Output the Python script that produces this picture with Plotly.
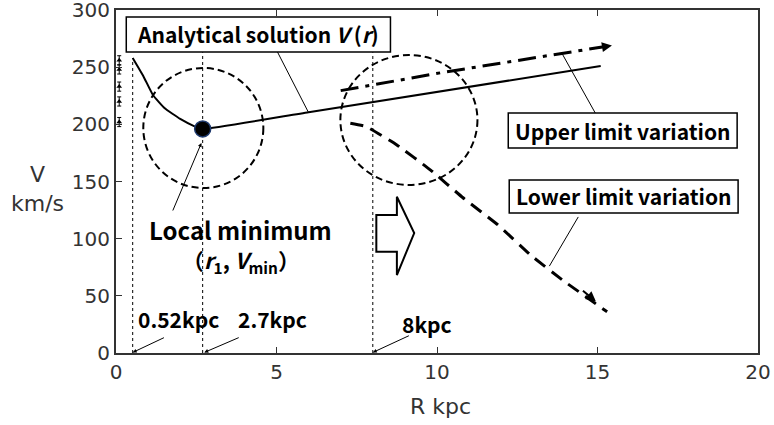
import plotly.graph_objects as go

# Observed rotation speeds near the galactic centre
obs_r = [0.1, 0.1, 0.1, 0.1, 0.1]
obs_v = [256, 248, 233, 220, 202]

# Analytical solution V(r): inner fall to the local minimum, then linear rise
model_r = [0.52, 0.86, 1.15, 1.52, 2.0, 2.43, 2.7, 6.0, 15.1]
model_v = [258, 241.7, 225.7, 214, 204.7, 198.5, 196, 210.6, 251]

# Upper / lower limit variations beyond 7 kpc
upper_r = [7.0, 10.2, 15.45]
upper_v = [229.5, 245.5, 269]
lower_r = [7.3, 7.8, 8.75, 9.8, 10.8, 11.9, 12.9, 13.9, 15.3]
lower_v = [201, 198, 182, 160, 136, 112, 86, 64, 36]

# Local minimum and marker radii
r_min, v_min = 2.7, 196
r_core = 0.52
r_sun = 8

x_ticks = [0, 5, 10, 15, 20]
y_ticks = [0, 50, 100, 150, 200, 250, 300]

LABEL_FONT = "Noto Sans CJK JP"
AXIS_FONT = "DejaVu Sans"

fig = go.Figure()

fig.add_trace(go.Scatter(
    x=obs_r, y=obs_v, mode="markers",
    marker=dict(symbol="triangle-up", size=5, color="black"),
    error_y=dict(type="constant", value=4, thickness=1, width=2, color="black"),
    hoverinfo="skip", showlegend=False))

fig.add_trace(go.Scatter(
    x=model_r, y=model_v, mode="lines",
    line=dict(color="black", width=2, shape="spline", smoothing=0.4),
    showlegend=False))

fig.add_trace(go.Scatter(
    x=upper_r, y=upper_v, mode="lines",
    line=dict(color="black", width=3, dash="18px,7px,4px,7px"),
    showlegend=False))

fig.add_trace(go.Scatter(
    x=lower_r, y=lower_v, mode="lines",
    line=dict(color="black", width=3, dash="13px,8px", shape="spline", smoothing=0.3),
    showlegend=False))

fig.add_trace(go.Scatter(
    x=[r_min], y=[v_min], mode="markers",
    marker=dict(size=16, color="black", line=dict(color="#1f3a6e", width=1.5)),
    showlegend=False))

shapes = []
# vertical guide lines
for rv, top in [(r_core, 258), (r_min, 263), (r_sun, 263)]:
    shapes.append(dict(type="line", xref="x", yref="y", x0=rv, x1=rv, y0=0, y1=top,
                       line=dict(color="black", width=1, dash="3px,3px"), layer="below"))
# dashed circles
shapes.append(dict(type="circle", xref="x", yref="y", x0=0.85, x1=4.59, y0=144.3, y1=249.3,
                   line=dict(color="black", width=2, dash="7px,4px")))
shapes.append(dict(type="circle", xref="x", yref="y", x0=6.99, x1=11.26, y0=147, y1=260.6,
                   line=dict(color="black", width=2, dash="7px,4px")))
# hollow block arrow
shapes.append(dict(type="path", xref="x", yref="y",
                   path="M 8.11 120.7 L 8.75 120.7 L 8.75 136.7 L 9.29 104.9 L 8.75 68.2 "
                        "L 8.75 88.6 L 8.11 88.6 Z",
                   line=dict(color="black", width=2), fillcolor="white"))
# leader lines
for x0, y0, x1, y1 in [(5.03, 263.3, 6.0, 210.2), (14.93, 209.9, 13.9, 261.7),
                       (14.4, 119, 13.5, 76)]:
    shapes.append(dict(type="line", xref="x", yref="y", x0=x0, y0=y0, x1=x1, y1=y1,
                       line=dict(color="black", width=1)))
# label boxes
for x0, x1, y0, y1 in [(0.32, 8.55, 263.3, 293.9), (12.22, 19.35, 179.3, 209.9),
                       (12.25, 19.38, 122.5, 151.3)]:
    shapes.append(dict(type="rect", xref="x", yref="y", x0=x0, x1=x1, y0=y0, y1=y1,
                       line=dict(color="black", width=1.5), fillcolor="white", layer="above"))

annotations = []
bold = dict(family=LABEL_FONT, size=21, color="black", weight="bold")
annotations.append(dict(x=4.43, y=278.6, xref="x", yref="y", showarrow=False,
                        text="Analytical solution <i>V</i> (<i>r</i>)", font=bold))
annotations.append(dict(x=15.79, y=194.6, xref="x", yref="y", showarrow=False,
                        text="Upper limit variation", font=bold))
annotations.append(dict(x=15.81, y=136.9, xref="x", yref="y", showarrow=False,
                        text="Lower limit variation", font=bold))
annotations.append(dict(x=3.88, y=107.6, xref="x", yref="y", showarrow=False,
                        text="Local minimum", font=dict(bold, size=24)))
annotations.append(dict(x=3.88, y=80.5, xref="x", yref="y", showarrow=False,
                        text="（<i>r</i><sub>1</sub>, <i>V</i><sub>min</sub>）",
                        font=dict(bold, size=22)))
annotations.append(dict(x=1.94, y=29.5, xref="x", yref="y", showarrow=False,
                        text="0.52kpc", font=bold))
annotations.append(dict(x=4.87, y=29.5, xref="x", yref="y", showarrow=False,
                        text="2.7kpc", font=bold))
annotations.append(dict(x=9.7, y=25.5, xref="x", yref="y", showarrow=False,
                        text="8kpc", font=bold))

# arrows (empty text, tail at ax/ay)
arrows = [
    (2.66, 183.7, 1.75, 123.3, 1, 0.8),   # local minimum
    (r_core, 0.5, 1.54, 14, 1, 0.8),
    (2.75, 0.5, 3.87, 14, 1, 0.8),
    (r_sun, 0.5, 9.17, 15.7, 1, 0.8),
    (upper_r[-1], upper_v[-1], 15.0, 266.9, 2, 1.0),
    (14.95, 45, 14.5, 55.5, 2, 1.0),
]
for x, y, ax, ay, w, sz in arrows:
    annotations.append(dict(x=x, y=y, ax=ax, ay=ay, xref="x", yref="y", axref="x", ayref="y",
                            text="", showarrow=True, arrowhead=2, arrowsize=sz,
                            arrowwidth=w, arrowcolor="black"))

# axis titles
annotations.append(dict(x=-0.1215, y=0.478, xref="paper", yref="paper", showarrow=False,
                        xanchor="center", yanchor="middle",
                        text="V<br>km/s", align="center",
                        font=dict(family=AXIS_FONT, size=22, color="#333")))
annotations.append(dict(x=0.505, y=-0.157, xref="paper", yref="paper", showarrow=False,
                        xanchor="center", yanchor="middle",
                        text="R kpc", font=dict(family=AXIS_FONT, size=22, color="#333")))

fig.update_layout(
    width=774, height=425,
    margin=dict(l=116, r=16, t=10, b=72),
    paper_bgcolor="white", plot_bgcolor="white",
    shapes=shapes, annotations=annotations,
    showlegend=False,
)
fig.update_xaxes(range=[0, 20], tickvals=x_ticks, showgrid=False, zeroline=False,
                 showline=True, linecolor="#333", linewidth=2, mirror="ticks",
                 ticks="inside", ticklen=6, tickcolor="#333", automargin=False,
                 ticklabeloverflow="allow",
                 tickfont=dict(family=AXIS_FONT, size=20, color="#333"))
fig.update_yaxes(range=[0, 300], tickvals=y_ticks, showgrid=False, zeroline=False,
                 showline=True, linecolor="#333", linewidth=2, mirror=True,
                 ticks="inside", ticklen=6, tickcolor="#333", automargin=False,
                 ticklabeloverflow="allow",
                 tickfont=dict(family=AXIS_FONT, size=20, color="#333"))

fig.write_html("out.html")
